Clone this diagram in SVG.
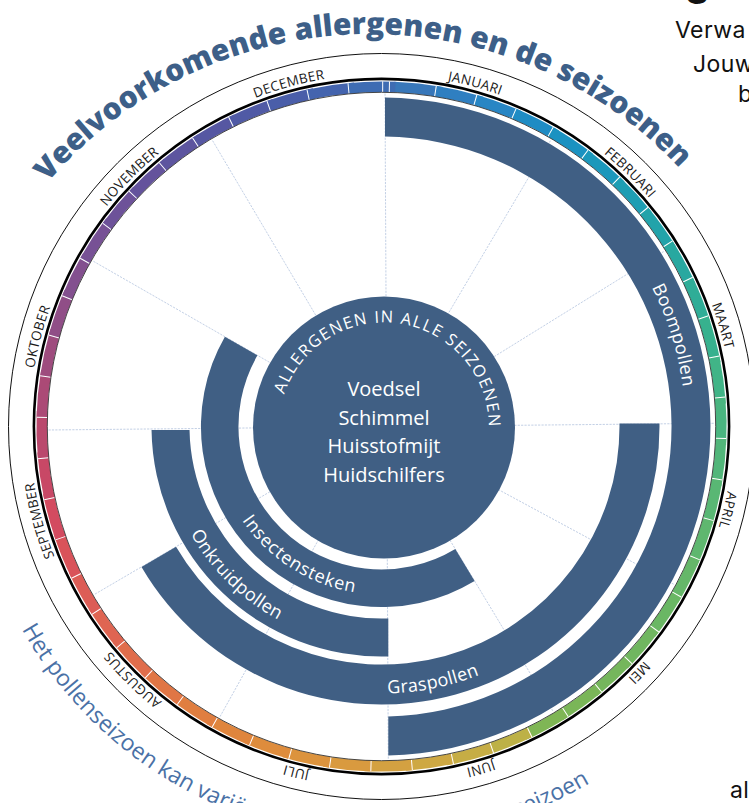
<svg xmlns="http://www.w3.org/2000/svg" width="749" height="803" viewBox="0 0 749 803">
<style>
 .band{fill:#405f84}
 .spoke{fill:none;stroke:#b4c4de;stroke-width:0.8;stroke-dasharray:2.2 1.2}
 .seg{fill:none;stroke-width:10.6;stroke-dasharray:48 2200}
 .mon{font-family:"Open Sans","Liberation Sans",sans-serif;font-size:13.5px;fill:#1a1a1a;letter-spacing:0.3px;text-anchor:middle}
 .blab{font-family:"Open Sans","Liberation Sans",sans-serif;font-size:18px;fill:#ffffff;text-anchor:middle;letter-spacing:0.3px}
 .ctr{font-family:"Open Sans","Liberation Sans",sans-serif;font-size:20px;fill:#ffffff;text-anchor:middle}
 .side{font-family:Inter,"Liberation Sans",sans-serif;font-size:23px;fill:#111111;letter-spacing:0.4px}
 .sub{font-family:"Open Sans","Liberation Sans",sans-serif;font-size:23px;fill:#4a71a6}
</style>
<defs>
 <path id="pMonth" d="M0,-352A352,352 0 1 1 0,352A352,352 0 1 1 0,-352"/>
 <path id="pBoom" d="M0,-304A304,304 0 1 1 0,304A304,304 0 1 1 0,-304"/>
 <path id="pGras" d="M-267,0A267,267 0 1 0 267,0A267,267 0 1 0 -267,0"/>
 <path id="pOnk" d="M-219,0A219,219 0 1 0 219,0A219,219 0 1 0 -219,0"/>
 <path id="pIns" d="M-168,0A168,168 0 1 0 168,0A168,168 0 1 0 -168,0"/>
 <path id="pSub" d="M-413,0A413,413 0 1 0 413,0A413,413 0 1 0 -413,0"/>
 <path id="pCtr" d="M0,105A105,105 0 1 1 0,-105A105,105 0 1 1 0,105"/>
 <path id="pTitle" d="M0,424A424,424 0 1 1 0,-424A424,424 0 1 1 0,424"/>
</defs>

<g id="title" transform="translate(370,458)">
 <text font-family="'Open Sans','Liberation Sans',sans-serif" font-weight="800" font-size="30" fill="#3d5f88" text-anchor="middle"><textPath href="#pTitle" startOffset="1322">Veelvoorkomende allergenen en de seizoenen</textPath></text>
</g>

<g id="month-ring" transform="translate(381.5,426.5)">
 <circle r="373" fill="none" stroke="#111" stroke-width="1"/>
 <circle r="347.6" fill="none" stroke="#000" stroke-width="2.6"/>
 <g id="ring-colours">
  <circle class="seg" r="339.8" stroke="#3877b9" transform="rotate(-87.84)"/>
  <circle class="seg" r="339.8" stroke="#2f7fc1" transform="rotate(-80.94)"/>
  <circle class="seg" r="339.8" stroke="#2886c4" transform="rotate(-74.04)"/>
  <circle class="seg" r="339.8" stroke="#1f8cc4" transform="rotate(-67.13)"/>
  <circle class="seg" r="339.8" stroke="#1b92c1" transform="rotate(-60.23)"/>
  <circle class="seg" r="339.8" stroke="#1c98bb" transform="rotate(-53.32)"/>
  <circle class="seg" r="339.8" stroke="#1e9eb3" transform="rotate(-46.42)"/>
  <circle class="seg" r="339.8" stroke="#22a3aa" transform="rotate(-39.52)"/>
  <circle class="seg" r="339.8" stroke="#28a8a0" transform="rotate(-32.61)"/>
  <circle class="seg" r="339.8" stroke="#2fad97" transform="rotate(-25.71)"/>
  <circle class="seg" r="339.8" stroke="#37b18e" transform="rotate(-18.80)"/>
  <circle class="seg" r="339.8" stroke="#41b487" transform="rotate(-11.90)"/>
  <circle class="seg" r="339.8" stroke="#4ab580" transform="rotate(-5.00)"/>
  <circle class="seg" r="339.8" stroke="#52b67a" transform="rotate(1.91)"/>
  <circle class="seg" r="339.8" stroke="#59b774" transform="rotate(8.81)"/>
  <circle class="seg" r="339.8" stroke="#5fb76f" transform="rotate(15.72)"/>
  <circle class="seg" r="339.8" stroke="#65b769" transform="rotate(22.62)"/>
  <circle class="seg" r="339.8" stroke="#6ab764" transform="rotate(29.52)"/>
  <circle class="seg" r="339.8" stroke="#70b660" transform="rotate(36.43)"/>
  <circle class="seg" r="339.8" stroke="#75b65c" transform="rotate(43.33)"/>
  <circle class="seg" r="339.8" stroke="#7ab658" transform="rotate(50.24)"/>
  <circle class="seg" r="339.8" stroke="#7fb655" transform="rotate(57.14)"/>
  <circle class="seg" r="339.8" stroke="#bdb146" transform="rotate(64.04)"/>
  <circle class="seg" r="339.8" stroke="#c6ad45" transform="rotate(70.95)"/>
  <circle class="seg" r="339.8" stroke="#cea843" transform="rotate(77.85)"/>
  <circle class="seg" r="339.8" stroke="#d4a141" transform="rotate(84.76)"/>
  <circle class="seg" r="339.8" stroke="#d99a3f" transform="rotate(91.66)"/>
  <circle class="seg" r="339.8" stroke="#dc933d" transform="rotate(98.56)"/>
  <circle class="seg" r="339.8" stroke="#de8c3c" transform="rotate(105.47)"/>
  <circle class="seg" r="339.8" stroke="#df853d" transform="rotate(112.37)"/>
  <circle class="seg" r="339.8" stroke="#e07e40" transform="rotate(119.28)"/>
  <circle class="seg" r="339.8" stroke="#e07645" transform="rotate(126.18)"/>
  <circle class="seg" r="339.8" stroke="#e06d4c" transform="rotate(133.08)"/>
  <circle class="seg" r="339.8" stroke="#df6552" transform="rotate(139.99)"/>
  <circle class="seg" r="339.8" stroke="#dc5d56" transform="rotate(146.89)"/>
  <circle class="seg" r="339.8" stroke="#d9535a" transform="rotate(153.80)"/>
  <circle class="seg" r="339.8" stroke="#d34b60" transform="rotate(160.70)"/>
  <circle class="seg" r="339.8" stroke="#c84866" transform="rotate(167.60)"/>
  <circle class="seg" r="339.8" stroke="#ba496d" transform="rotate(174.51)"/>
  <circle class="seg" r="339.8" stroke="#ab4a76" transform="rotate(181.41)"/>
  <circle class="seg" r="339.8" stroke="#9e4c7e" transform="rotate(188.32)"/>
  <circle class="seg" r="339.8" stroke="#904e87" transform="rotate(195.22)"/>
  <circle class="seg" r="339.8" stroke="#83508f" transform="rotate(202.12)"/>
  <circle class="seg" r="339.8" stroke="#775195" transform="rotate(209.03)"/>
  <circle class="seg" r="339.8" stroke="#6d5299" transform="rotate(215.93)"/>
  <circle class="seg" r="339.8" stroke="#64539c" transform="rotate(222.84)"/>
  <circle class="seg" r="339.8" stroke="#5d559f" transform="rotate(229.74)"/>
  <circle class="seg" r="339.8" stroke="#5657a2" transform="rotate(236.64)"/>
  <circle class="seg" r="339.8" stroke="#505aa5" transform="rotate(243.55)"/>
  <circle class="seg" r="339.8" stroke="#4a5ea9" transform="rotate(250.45)"/>
  <circle class="seg" r="339.8" stroke="#4464ae" transform="rotate(257.36)"/>
  <circle class="seg" r="339.8" stroke="#3e6cb3" transform="rotate(264.26)"/>
 </g>
 <path d="M53.50,-335.56A339.8,339.8 0 1 1 8.90,-339.68" fill="none" stroke="#fff" stroke-width="10.8" stroke-dasharray="1 39.946"/>
 <line x1="1.17" y1="-334.5" x2="1.2" y2="-345.2" stroke="#fff" stroke-width="1"/>
 <circle r="334.2" fill="none" stroke="#333" stroke-width="0.9"/>
 <text class="mon"><textPath href="#pMonth" startOffset="93.93">JANUARI</textPath></text>
 <text class="mon"><textPath href="#pMonth" startOffset="272.65">FEBRUARI</textPath></text>
 <text class="mon"><textPath href="#pMonth" startOffset="451.43">MAART</textPath></text>
 <text class="mon"><textPath href="#pMonth" startOffset="636.22">APRIL</textPath></text>
 <text class="mon"><textPath href="#pMonth" startOffset="821.02">MEI</textPath></text>
 <text class="mon"><textPath href="#pMonth" startOffset="1005.89">JUNI</textPath></text>
 <text class="mon"><textPath href="#pMonth" startOffset="1190.69">JULI</textPath></text>
 <text class="mon"><textPath href="#pMonth" startOffset="1378.50">AUGUSTUS</textPath></text>
 <text class="mon"><textPath href="#pMonth" startOffset="1563.35">SEPTEMBER</textPath></text>
 <text class="mon"><textPath href="#pMonth" startOffset="1748.15">OKTOBER</textPath></text>
 <text class="mon"><textPath href="#pMonth" startOffset="1932.94">NOVEMBER</textPath></text>
 <text class="mon"><textPath href="#pMonth" startOffset="2117.78">DECEMBER</textPath></text>
</g>

<g id="connectors">
 <line class="spoke" x1="385" y1="93.5" x2="388.3" y2="759.5"/>
 <line class="spoke" x1="48.5" y1="430" x2="714.5" y2="423.3"/>
 <line class="spoke" x1="381.5" y1="426.5" x2="550.91" y2="139.81"/>
 <line class="spoke" x1="381.5" y1="426.5" x2="664.51" y2="251.02"/>
 <line class="spoke" x1="381.5" y1="426.5" x2="674.52" y2="584.69"/>
 <line class="spoke" x1="381.5" y1="426.5" x2="553.32" y2="711.74"/>
 <line class="spoke" x1="381.5" y1="426.5" x2="219.55" y2="717.47"/>
 <line class="spoke" x1="381.5" y1="426.5" x2="94.03" y2="594.67"/>
 <line class="spoke" x1="381.5" y1="426.5" x2="92.58" y2="260.81"/>
 <line class="spoke" x1="381.5" y1="426.5" x2="212.09" y2="139.81"/>
</g>

<g id="boompollen">
 <path class="band" d="M385,97.52A329,329 0 0 1 388.3,755.43L388.3,716.42A290,290 0 0 0 385,136.52Z"/>
 <g transform="translate(381.5,426.5)"><text class="blab"><textPath href="#pBoom" startOffset="385.2">Boompollen</textPath></text></g>
</g>
<g id="graspollen">
 <path class="band" d="M659.48,423.5A278,278 0 0 1 141.51,566.89L176.04,546.69A238,238 0 0 0 619.48,423.5Z"/>
 <g transform="translate(381.5,426.5)"><text class="blab"><textPath href="#pGras" startOffset="472.5">Graspollen</textPath></text></g>
</g>
<g id="onkruidpollen">
 <path class="band" d="M388.3,656.4A230,230 0 0 1 151.53,430L189.53,430A192,192 0 0 0 388.3,618.38Z"/>
 <g transform="translate(381.5,426.5)"><text class="blab"><textPath href="#pOnk" startOffset="174.3">Onkruidpollen</textPath></text></g>
</g>
<g id="insectensteken">
 <path class="band" d="M474.64,581.11A180.5,180.5 0 0 1 224.89,336.69L257.43,355.35A143,143 0 0 0 455.29,548.99Z"/>
 <g transform="translate(381.5,426.5)"><text class="blab" style="letter-spacing:0.8px"><textPath href="#pIns" startOffset="168.3">Insectensteken</textPath></text></g>
</g>

<g id="alle-seizoenen">
 <circle class="band" cx="384" cy="427.5" r="131"/>
 <g transform="translate(384,427.5)"><text class="blab" style="font-size:16.5px;letter-spacing:1.4px"><textPath href="#pCtr" startOffset="346.4">ALLERGENEN IN ALLE SEIZOENEN</textPath></text></g>
 <text class="ctr" x="384" y="396">Voedsel</text>
 <text class="ctr" x="384" y="425">Schimmel</text>
 <text class="ctr" x="384" y="453">Huisstofmijt</text>
 <text class="ctr" x="384" y="482">Huidschilfers</text>
</g>

<g id="subtitle" transform="translate(381.5,426.5)">
 <text class="sub"><textPath href="#pSub" startOffset="212">Het pollenseizoen kan variëren</textPath></text>
 <text class="sub" text-anchor="end"><textPath href="#pSub" startOffset="867">t seizoen</textPath></text>
</g>

<g id="side-text">
 <text font-family="Inter,'Liberation Sans',sans-serif" font-size="40" font-weight="700" fill="#111" x="685" y="-5">g</text>
 <text class="side" x="675" y="38">Verwa</text>
 <text class="side" x="693" y="71.5">Jouw</text>
 <text class="side" x="738" y="101.5">b</text>
 <text class="side" x="730" y="798">al</text>
</g>
</svg>
